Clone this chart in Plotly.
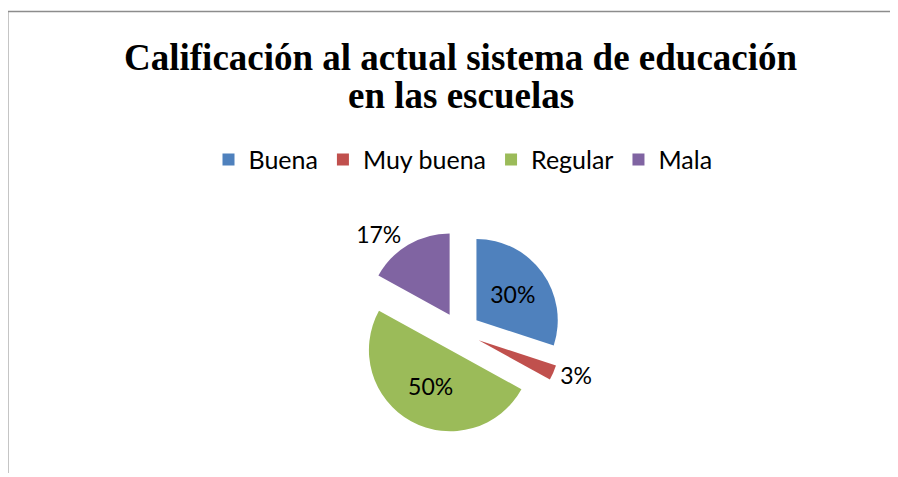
import plotly.graph_objects as go

categories = ["Buena", "Muy buena", "Regular", "Mala"]
values = [30, 3, 50, 17]
colors = ["#4F81BD", "#C0504D", "#9BBB59", "#8064A2"]
text_positions = ["inside", "outside", "inside", "outside"]

title_lines = ["Calificación al actual sistema de educación", "en las escuelas"]

# the page body keeps its default 8px margin, so the figure is drawn
# 8px smaller and every position below is given in window pixels minus 8
OFF = 8
W, H = 898 - OFF, 477 - OFF


def px(x):
    return (x - OFF) / W


def py(y):
    return 1 - (y - OFF) / H


fig = go.Figure()
fig.add_trace(go.Pie(
    labels=categories,
    values=values,
    sort=False,
    direction="clockwise",
    rotation=0,
    pull=[0.25, 0.25, 0.25, 0.25],
    marker=dict(colors=colors, line=dict(width=0)),
    textinfo="percent",
    texttemplate="%{percent:.0%}",
    textposition=text_positions,
    insidetextorientation="horizontal",
    textfont=dict(family="Lato", size=23, color="black"),
    domain=dict(x=[px(460 - 102.5), px(460 + 102.5)],
                y=[py(437.5), py(232.5)]),
    hoverinfo="label+percent",
))

# title as two separate lines, tight spacing like the original
for i, line in enumerate(title_lines):
    fig.add_annotation(
        text="<b>%s</b>" % line,
        x=px(461), y=py(58 + 38 * i),
        xref="paper", yref="paper",
        xanchor="center", yanchor="middle",
        showarrow=False,
        font=dict(family="Liberation Serif", size=37, color="black"),
    )

# chart border (top and left edges only visible in the crop)
fig.add_shape(type="line", xref="paper", yref="paper",
              x0=px(7.75), x1=1, y0=py(11.5), y1=py(11.5),
              line=dict(color="#8c8c8c", width=1.5))
fig.add_shape(type="line", xref="paper", yref="paper",
              x0=px(7.75), x1=px(7.75), y0=0, y1=py(11.5),
              line=dict(color="#8c8c8c", width=1.5))

fig.update_layout(
    width=W, height=H,
    margin=dict(l=0, r=0, t=0, b=0),
    paper_bgcolor="white",
    plot_bgcolor="white",
    showlegend=True,
    legend=dict(
        orientation="h",
        x=px(463), y=py(161),
        xanchor="center", yanchor="middle",
        font=dict(family="Lato", size=25, color="black"),
        itemwidth=30,
        traceorder="normal",
    ),
)

fig.write_html("out.html")
